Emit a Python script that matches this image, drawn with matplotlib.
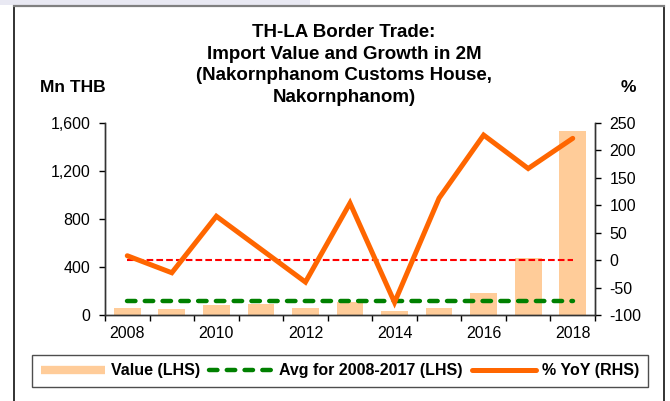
import numpy as np
import matplotlib.pyplot as plt
from matplotlib.lines import Line2D
from matplotlib.patches import Rectangle
from matplotlib.ticker import FuncFormatter

plt.rcParams['font.family'] = ['Liberation Sans', 'DejaVu Sans']
plt.rcParams['axes.unicode_minus'] = False

years = [2008, 2009, 2010, 2011, 2012, 2013, 2014, 2015, 2016, 2017, 2018]
import_value = [58, 47, 83, 94, 56, 106, 31, 56, 181, 475, 1533]    # Mn THB
yoy_growth = [8, -23, 80, 20, -40, 104, -77, 113, 228, 167, 222]      # %
avg_value = np.mean(import_value[:10])                               # 2008-2017 average

W, H = 670, 401
fig = plt.figure(figsize=(W / 100, H / 100), dpi=100)

# outer frame and faint band at the top edge
fig.patches.append(Rectangle((0, 1 - 5 / H), 310 / W, 5 / H, transform=fig.transFigure,
                             facecolor='#e9e9f3', edgecolor='none', zorder=0))
fig.patches.append(Rectangle((14 / W, -0.05), 650 / W, 1.05 - 6 / H, transform=fig.transFigure,
                             facecolor='none', edgecolor='#222222', lw=1.3, zorder=1))
fig.lines.append(Line2D([14 / W, 664 / W], [1 - 6 / H, 1 - 6 / H], transform=fig.transFigure,
                        color='#808080', lw=1.6))

ax = fig.add_axes([105 / W, 1 - 315 / H, 490 / W, 192 / H])
ax2 = ax.twinx()
ax.set_zorder(ax2.get_zorder() - 1)
ax.patch.set_visible(False)

x = np.arange(len(years))
ax.bar(x, import_value, width=0.6, color='#ffcc99', zorder=2)
ax.plot([x[0], x[-1]], [avg_value, avg_value], color='#008000', lw=3.2,
        dashes=(1.9, 2.1), dash_capstyle='round', zorder=3)

ax2.plot([x[0], x[-1]], [0, 0], color='#ff0000', lw=1.5, dashes=(3.2, 1.5))
ax2.plot(x, yoy_growth, color='#ff6600', lw=3.6, solid_capstyle='round',
         solid_joinstyle='miter')

ax.set_xlim(-0.5, len(years) - 0.5)
ax.set_ylim(0, 1600)
ax.set_yticks(np.arange(0, 1601, 400))
ax.yaxis.set_major_formatter(FuncFormatter(lambda v, p: f'{int(v):,}'))
ax2.set_ylim(-100, 250)
ax2.set_yticks(np.arange(-100, 251, 50))

ax.set_xticks(x[::2])
ax.set_xticklabels([str(y) for y in years[::2]])
ax.set_xticks(np.arange(-0.5, len(years)), minor=True)
ax.tick_params(axis='x', which='major', length=0, pad=8, labelsize=11.5)
ax.tick_params(axis='x', which='minor', length=4, width=1, direction='out')
ax.tick_params(axis='y', length=4.5, width=1, pad=6, labelsize=11.5)
ax2.tick_params(axis='y', length=4.5, width=1, pad=6, labelsize=11.5)

for a in (ax, ax2):
    a.spines['top'].set_visible(False)
    for s in a.spines.values():
        s.set_color('#333333')
        s.set_linewidth(1)

fig.text(344 / W, 1 - 24 / H,
         'TH-LA Border Trade:\nImport Value and Growth in 2M\n'
         '(Nakornphanom Customs House,\nNakornphanom)',
         ha='center', va='top', fontsize=13.5, fontweight='bold', linespacing=1.36)
fig.text(73 / W, 1 - 88 / H, 'Mn THB', ha='center', va='center',
         fontsize=12.5, fontweight='bold')
fig.text(628 / W, 1 - 88 / H, '%', ha='center', va='center',
         fontsize=12.5, fontweight='bold')

handles = [
    Line2D([], [], color='#ffcc99', lw=6, solid_capstyle='butt'),
    Line2D([], [], color='#008000', lw=3.2, dashes=(1.9, 2.1), dash_capstyle='round'),
    Line2D([], [], color='#ff6600', lw=3.6, solid_capstyle='round'),
]
labels = ['Value (LHS)', 'Avg for 2008-2017 (LHS)', '% YoY (RHS)']
leg = fig.legend(handles, labels, loc='center', bbox_to_anchor=(340 / W, 1 - 371 / H),
                 ncol=3, frameon=True, fancybox=False, edgecolor='#222222',
                 prop={'weight': 'bold', 'size': 11.5}, handlelength=4.0,
                 handletextpad=0.4, columnspacing=0.55, borderpad=0.55)
leg.get_frame().set_linewidth(1)

fig.savefig('out.png', dpi=100)
